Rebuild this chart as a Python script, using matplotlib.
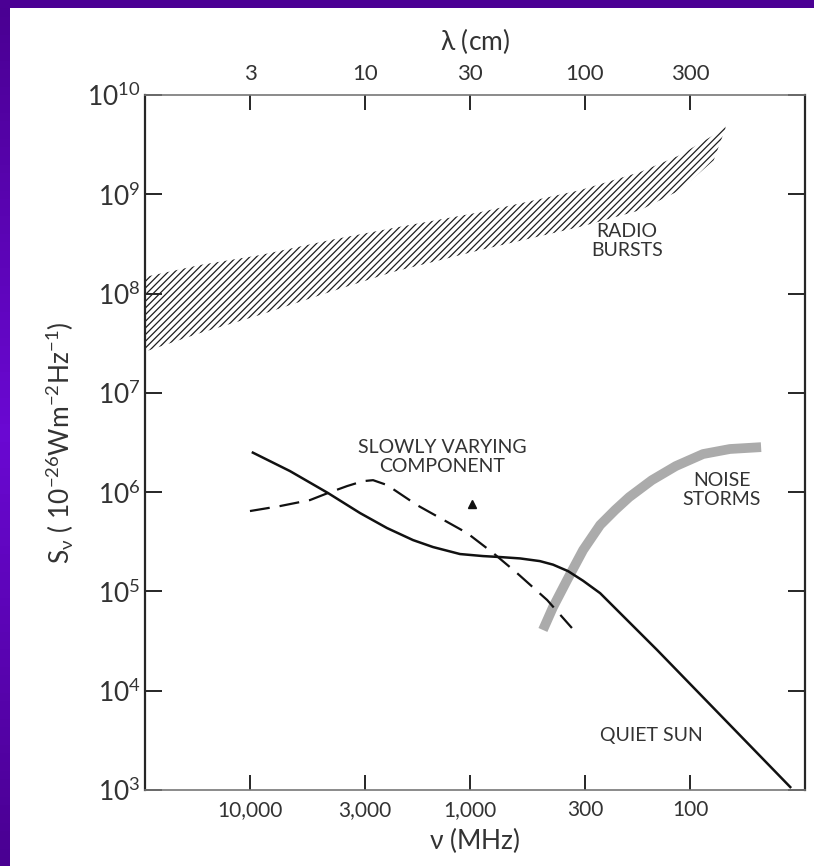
import numpy as np
import matplotlib.pyplot as plt
from matplotlib.colors import LinearSegmentedColormap
from matplotlib.ticker import FixedLocator, FixedFormatter, NullLocator

plt.rcParams['font.family'] = ['Lato', 'DejaVu Sans']
plt.rcParams['mathtext.default'] = 'regular'
plt.rcParams['hatch.linewidth'] = 0.9

# frequency axis (MHz) and wavelength axis (cm)
freq_ticks = [10000, 3000, 1000, 300, 100]
freq_labels = ['10,000', '3,000', '1,000', '300', '100']
lam_ticks = [3, 10, 30, 100, 300]
lam_labels = ['3', '10', '30', '100', '300']
flux_ticks = [1e3, 1e4, 1e5, 1e6, 1e7, 1e8, 1e9, 1e10]
flux_labels = ['$10^{3}$', '$10^{4}$', '$10^{5}$', '$10^{6}$',
               '$10^{7}$', '$10^{8}$', '$10^{9}$', '$10^{10}$']

# radio bursts band
burst_f = [30000, 16870, 9000, 4320, 2240, 900, 316, 169, 111, 78, 69]
burst_lo = [2.6e7, 4.0e7, 6.1e7, 1.04e8, 1.65e8, 2.74e8, 4.7e8, 6.9e8, 1.1e9, 2.2e9, 4.6e9]
burst_hi = [1.47e8, 1.94e8, 2.44e8, 3.46e8, 4.57e8, 6.6e8, 1.1e9, 1.67e9, 2.48e9, 3.95e9, 4.97e9]

# quiet sun
quiet_f = [9700, 6580, 4420, 3161, 2383, 1815, 1473, 1110, 872, 730, 592, 481, 419,
           358, 306, 256, 141, 35]
quiet_s = [2.5e6, 1.63e6, 9.8e5, 6.16e5, 4.35e5, 3.29e5, 2.8e5, 2.38e5, 2.27e5, 2.22e5,
           2.15e5, 2.02e5, 1.86e5, 1.6e5, 1.28e5, 9.6e4, 2.57e4, 1.07e3]

# slowly varying component
slow_f = [10000, 7300, 5335, 4420, 3623, 3064, 2757, 2383, 1740, 1030, 785, 611, 446, 344]
slow_s = [6.45e5, 7.24e5, 8.32e5, 9.8e5, 1.15e6, 1.29e6, 1.32e6, 1.18e6, 7.4e5, 3.87e5,
          2.44e5, 1.53e5, 8.2e4, 4.28e4]

# noise storms
storm_f = [466, 419, 362, 306, 256, 219, 189, 149, 116, 87.2, 65.8, 47.5]
storm_s = [4.09e4, 6.96e4, 1.3e5, 2.61e5, 4.67e5, 6.6e5, 8.9e5, 1.32e6, 1.83e6, 2.42e6,
           2.72e6, 2.84e6]

# isolated point
point_f = [980]
point_s = [7.6e5]

W, H = 814, 866
fig = plt.figure(figsize=(W / 100, H / 100), dpi=100, facecolor='white')

# purple frame (left and top strips)
grad = np.concatenate([np.linspace(0, 1, 50), np.linspace(1, 0, 50)])
purple = LinearSegmentedColormap.from_list('p', ['#4a0092', '#6a08d2'])
axl = fig.add_axes([0, 0, 10 / W, 1])
axl.imshow(grad[:, None], aspect='auto', cmap=purple)
axl.axis('off')
axt = fig.add_axes([0, 1 - 8 / H, 1, 8 / H])
axt.set_facecolor('#4b0094')
axt.set_xticks([])
axt.set_yticks([])
for s in axt.spines.values():
    s.set_visible(False)

ax = fig.add_axes([145 / W, 1 - 790 / H, 660 / W, 695 / H])
ax.set_xscale('log')
ax.set_yscale('log')
ax.set_xlim(30000, 30)
ax.set_ylim(1e3, 1e10)

ink = '#262626'
ax.fill_between(burst_f, burst_lo, burst_hi, facecolor='none', edgecolor='#1e1e1e',
                hatch='/////', linewidth=0)
ax.plot(storm_f, storm_s, color='#ababab', lw=7, solid_capstyle='butt', zorder=2)
ax.plot(quiet_f, quiet_s, color='#111111', lw=1.8, zorder=3)
ax.plot(slow_f, slow_s, color='#111111', lw=1.6, dashes=(9, 4.5), zorder=3)
ax.plot(point_f, point_s, marker='^', ms=6, color='#111111', ls='none')

tcol = '#333333'
ax.text(194, 3.38e8, 'RADIO\nBURSTS', fontsize=14, color=tcol, ha='center', va='center',
        linespacing=1.2)
ax.text(1340, 2.26e6, 'SLOWLY VARYING\nCOMPONENT', fontsize=14, color=tcol, ha='center',
        va='center', linespacing=1.2)
ax.text(71.5, 1.05e6, 'NOISE\nSTORMS', fontsize=14, color=tcol, ha='center', va='center',
        linespacing=1.2)
ax.text(149, 3.58e3, 'QUIET SUN', fontsize=14, color=tcol, ha='center', va='center')

ax.xaxis.set_major_locator(FixedLocator(freq_ticks))
ax.xaxis.set_major_formatter(FixedFormatter(freq_labels))
ax.xaxis.set_minor_locator(NullLocator())
ax.yaxis.set_major_locator(FixedLocator(flux_ticks))
ax.yaxis.set_major_formatter(FixedFormatter(flux_labels))
ax.yaxis.set_minor_locator(NullLocator())
ax.tick_params(axis='x', direction='in', length=11, width=1.4, color=ink, labelsize=15,
               labelcolor=tcol, pad=7)
ax.tick_params(axis='y', direction='in', length=12, width=1.4, color=ink, labelsize=19,
               labelcolor=tcol, pad=3, right=True)
ax.set_xlabel(r'$\nu$ (MHz)', fontsize=19, color=tcol, labelpad=4)
ax.set_ylabel(r'$S_\nu$ ( $10^{-26}$Wm$^{-2}$Hz$^{-1}$)', fontsize=19, color=tcol,
              labelpad=8)
for side in ['left', 'right']:
    ax.spines[side].set_linewidth(1.6)
    ax.spines[side].set_color(ink)
for side in ['top', 'bottom']:
    ax.spines[side].set_linewidth(1.2)
    ax.spines[side].set_color('#777777')

sec = ax.secondary_xaxis('top', functions=(lambda f: 30000.0 / f, lambda l: 30000.0 / l))
sec.xaxis.set_major_locator(FixedLocator(lam_ticks))
sec.xaxis.set_major_formatter(FixedFormatter(lam_labels))
sec.xaxis.set_minor_locator(NullLocator())
sec.tick_params(axis='x', direction='in', length=11, width=1.4, color=ink, labelsize=16,
                labelcolor=tcol, pad=8)
sec.spines['top'].set_visible(False)
sec.set_xlabel(r'$\lambda$ (cm)', fontsize=19, color=tcol, labelpad=10)

fig.savefig('out.png', dpi=100, facecolor='white')
